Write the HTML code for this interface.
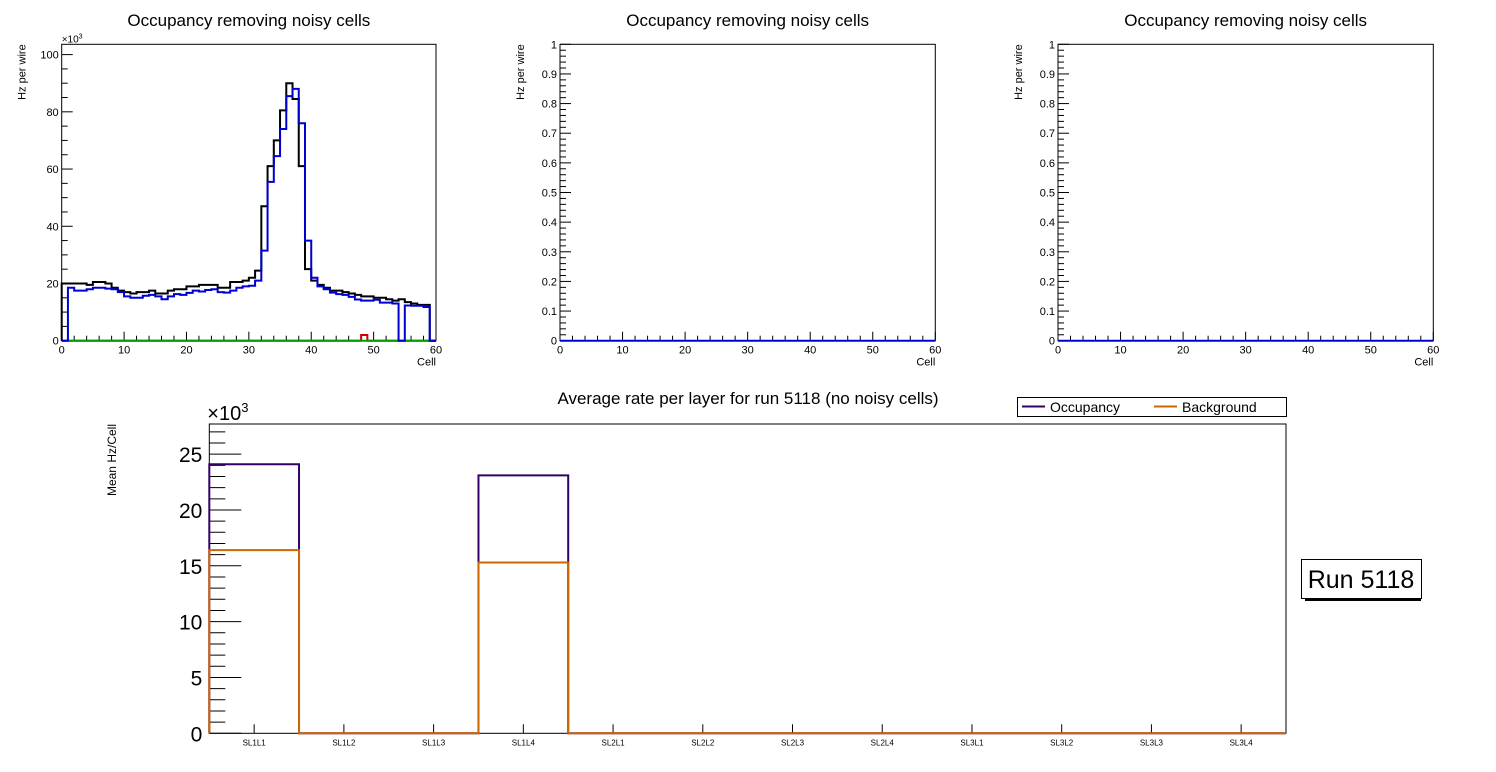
<!DOCTYPE html>
<html><head><meta charset="utf-8"><style>
html,body{margin:0;padding:0;background:#fff;}
svg{display:block;font-family:"Liberation Sans",sans-serif;}
</style></head><body>
<svg id="c" width="1496" height="772" xmlns="http://www.w3.org/2000/svg"></svg>
<script>
const NS="http://www.w3.org/2000/svg";
const svg=document.getElementById('c');
// panel 1 data (units of 1e3 Hz)
const cellBlack=[20,20,20,20,19.5,20.5,20.5,20,18.5,17.5,17,16.5,17,17,17.5,16.5,16.5,17.5,18,18,19,19,19.5,19.5,19.5,18.5,18.5,20.5,20.5,21,22,24.5,47,61,70,80.5,90,84.5,61,25,21,19.5,18.5,17.5,17.5,17,16.5,16,15.5,15.5,15,15,14.5,14,14.5,13.5,13,12.5,12.5,0];
const cellBlue=[0,18.5,17.5,17.5,18,18.5,18.5,18.2,18,17,15.5,15,15,15.7,16,15.5,14.5,15.5,16.3,16,16.7,17.5,17.2,17.7,18,17,16.8,17.5,18.5,19,19.2,21,31.5,55.5,64.5,74,85.5,88,76,35,22,19,18,16.8,16.3,16,15.3,14.4,14,14,14.3,13.3,13.3,13,0,12.3,12.2,12.2,11.8,0];
const cellRed=[0,0,0,0,0,0,0,0,0,0,0,0,0,0,0,0,0,0,0,0,0,0,0,0,0,0,0,0,0,0,0,0,0,0,0,0,0,0,0,0,0,0,0,0,0,0,0,0,2,0,0,0,0,0,0,0,0,0,0,0];
const xTicks=[0,10,20,30,40,50,60];
const yTicks1=[0,20,40,60,80,100];
const yTicksEmpty=[0,0.1,0.2,0.3,0.4,0.5,0.6,0.7,0.8,0.9,1];
// bottom chart
const layers=["SL1L1","SL1L2","SL1L3","SL1L4","SL2L1","SL2L2","SL2L3","SL2L4","SL3L1","SL3L2","SL3L3","SL3L4"];
const occValues=[24.1,0,0,23.1,0,0,0,0,0,0,0,0];
const bgValues=[16.4,0,0,15.3,0,0,0,0,0,0,0,0];
const yTicksBottom=[0,5,10,15,20,25];

function el(tag,attrs,parent,text){const e=document.createElementNS(NS,tag);for(const k in attrs)e.setAttribute(k,attrs[k]);if(text!==undefined)e.textContent=text;(parent||svg).appendChild(e);return e;}

function histPath(vals,x0,bw,ys){
  let d=`M${x0},${ys(0)}`;
  vals.forEach((v,i)=>{d+=` L${x0+i*bw},${ys(v)} L${x0+(i+1)*bw},${ys(v)}`;});
  d+=` L${x0+vals.length*bw},${ys(0)}`;return d;
}

function smallPanel(L,R,T,B,ymax,yTicks,minorDiv,series,expLabel,idx){
  const g=el('g',{},svg);
  
  
  const xs=v=>L+(R-L)*v/60, ys=v=>B-(B-T)*v/ymax;
  const t=el('text',{x:(L+R)/2,y:26,'text-anchor':'middle','font-size':17},g,'Occupancy removing noisy cells');
  
  el('rect',{x:L,y:T,width:R-L,height:B-T,fill:'none',stroke:'#000','stroke-width':1},g);
  // x ticks
  for(let i=0;i<=60;i+=2){const major=i%10==0;el('line',{x1:xs(i),x2:xs(i),y1:B,y2:B-(major?9:5),stroke:'#000'},g);}
  xTicks.forEach(v=>{const tx=el('text',{x:xs(v),y:B+13,'text-anchor':'middle','font-size':11},g,String(v));});
  const xl=el('text',{x:R,y:B+25,'text-anchor':'end','font-size':11},g,'Cell');
  
  // y ticks
  const step=yTicks[1]-yTicks[0];
  for(let v=0;v<=ymax+1e-9;v+=step/minorDiv){const major=Math.abs(v/step-Math.round(v/step))<1e-6;el('line',{x1:L,x2:L+(major?11:6),y1:ys(v),y2:ys(v),stroke:'#000'},g);}
  yTicks.forEach(v=>{const ty=el('text',{x:L-3,y:ys(v)+4,'text-anchor':'end','font-size':11},g,String(v));});
  const yl=el('text',{x:0,y:0,'font-size':11,'text-anchor':'end',transform:`translate(${L-36},${T}) rotate(-90)`},g,'Hz per wire');
  
  if(expLabel){const e=el('text',{x:L,y:T-2,'font-size':10},g,'×10');el('tspan',{dy:-4,'font-size':7},e,'3');}
  // series (drawn over frame)
  series.forEach(s=>{
    const p=el('path',{d:histPath(s.vals,L,(R-L)/60,ys),fill:'none',stroke:s.color,'stroke-width':2},g);
    
  });
}

smallPanel(61.7,436,44.3,340.7,103.6,yTicks1,4,[
 {vals:cellRed,color:'#d00000',name:'noisy-series'},
 {vals:cellRed.map(()=>0),color:'#00a000',name:'dead-series'},
 {vals:cellBlack,color:'#000',name:'total-series'},
 {vals:cellBlue,color:'#0000d0',name:'clean-series'}],true,1);
const zeros=new Array(60).fill(0);
smallPanel(560,935.3,44.3,340.7,1,yTicksEmpty,5,[{vals:zeros,color:'#0000d0',name:'clean-series'}],false,2);
smallPanel(1058,1433.3,44.3,340.7,1,yTicksEmpty,5,[{vals:zeros,color:'#0000d0',name:'clean-series'}],false,3);

// bottom chart
(function(){
  const L=209.3,R=1286,T=424,B=733.3,ymax=27.7;
  const g=el('g',{},svg);
  
  
  const bw=(R-L)/layers.length;
  const ys=v=>B-(B-T)*v/ymax;
  const t=el('text',{x:748,y:404,'text-anchor':'middle','font-size':17},g,'Average rate per layer for run 5118 (no noisy cells)');
  
  el('rect',{x:L,y:T,width:R-L,height:B-T,fill:'none',stroke:'#000'},g);
  layers.forEach((n,i)=>{const cx=L+(i+0.5)*bw;el('line',{x1:cx,x2:cx,y1:B,y2:B-9,stroke:'#000'},g);
    const tx=el('text',{x:cx,y:B+12,'text-anchor':'middle','font-size':8},g,n);});
  for(let v=0;v<=ymax;v+=1){const major=v%5==0;el('line',{x1:L,x2:L+(major?32:16),y1:ys(v),y2:ys(v),stroke:'#000'},g);}
  yTicksBottom.forEach(v=>{const ty=el('text',{x:L-7,y:ys(v)+8,'text-anchor':'end','font-size':21},g,String(v));});
  const e=el('text',{x:L-2,y:T-4,'font-size':20},g,'×10');el('tspan',{dy:-8,'font-size':13},e,'3');
  const yl=el('text',{x:0,y:0,'font-size':12,'text-anchor':'end',transform:`translate(116,424) rotate(-90)`},g,'Mean Hz/Cell');
  
  const po=el('path',{d:histPath(occValues,L,bw,ys),fill:'none',stroke:'#330066','stroke-width':2},g);
  
  const pb=el('path',{d:histPath(bgValues,L,bw,ys),fill:'none',stroke:'#cc6600','stroke-width':2},g);
  
  // legend
  const lg=el('g',{},svg);
  
  el('rect',{x:1017.5,y:397.5,width:269,height:19,fill:'#fff',stroke:'#000'},lg);
  el('line',{x1:1022,x2:1045,y1:406.5,y2:406.5,stroke:'#330066','stroke-width':2},lg);
  const a=el('text',{x:1050,y:412,'font-size':14},lg,'Occupancy');
  el('line',{x1:1154,x2:1177,y1:406.5,y2:406.5,stroke:'#cc6600','stroke-width':2},lg);
  const b=el('text',{x:1182,y:412,'font-size':14},lg,'Background');
  // run box
  const rb=el('g',{},svg);
  
  el('rect',{x:1305,y:597,width:116,height:4,fill:'#000'},rb);
  el('rect',{x:1301.5,y:559.5,width:120,height:39,fill:'#fff',stroke:'#000'},rb);
  el('text',{x:1361,y:588,'text-anchor':'middle','font-size':25},rb,'Run 5118');
})();
</script>
</body></html>
